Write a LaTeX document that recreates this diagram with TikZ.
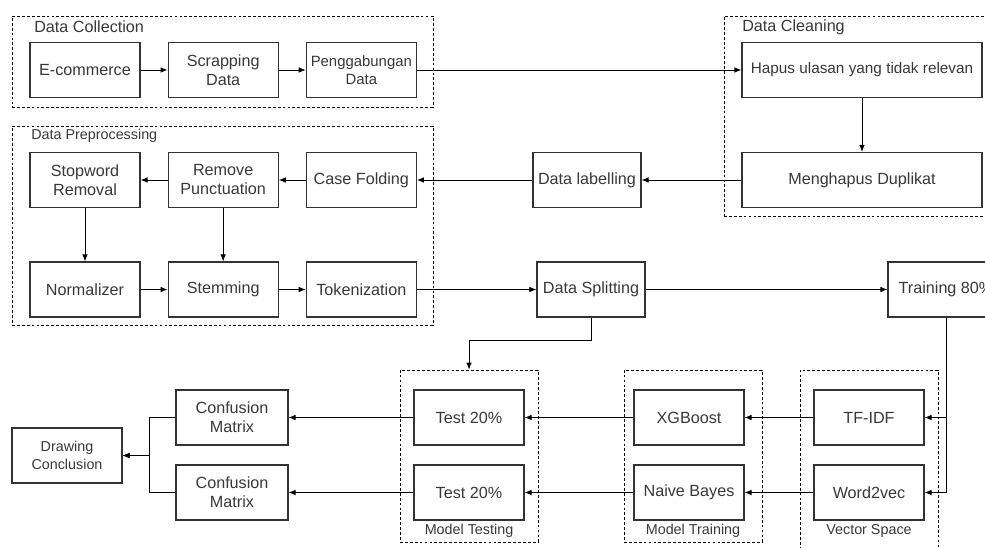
\documentclass[tikz,border=0pt]{standalone}
\usepackage{fontspec}
\setmainfont{Liberation Sans}
\usetikzlibrary{positioning}
\usetikzlibrary{arrows.meta}

\definecolor{edge}{HTML}{333333}
\definecolor{ink}{HTML}{383838}

\begin{document}
\begin{tikzpicture}[x=0.025cm, y=-0.025cm,
    block/.style={draw=edge, line width=0.8pt, text=ink, minimum width=2.75cm, minimum height=1.375cm, inner sep=1pt, align=center, font=\fontsize{11.5}{13.5}\selectfont},
    smallblock/.style={block, font=\fontsize{10.6}{12.5}\selectfont},
    group/.style={draw=black, line width=0.5pt, dash pattern=on 2pt off 1.5pt, inner sep=0pt},
    grouplabel/.style={text=ink, inner sep=0pt, font=\fontsize{10.2}{12}\selectfont},
    flow/.style={draw=black, line width=0.7pt, -{Latex[length=5pt, width=4pt]}}]
    \useasboundingbox (0,0) rectangle (985,547);

    % groups
    \node[group, minimum width=10.525cm, minimum height=2.275cm] (coll) at (222.5,61.5) {};
    \node[group, minimum width=6.65cm, minimum height=5cm] (clean) at (857,116) {};
    \node[group, minimum width=10.525cm, minimum height=4.975cm] (prep) at (222.5,225.5) {};
    \node[group, minimum width=3.45cm, minimum height=4.3cm] (mtest) at (469,456) {};
    \node[group, minimum width=3.45cm, minimum height=4.3cm] (mtrain) at (693,456) {};
    \node[group, minimum width=3.45cm, minimum height=4.55cm] (vspace) at (869,461) {};

    \node[grouplabel, anchor=west, font=\fontsize{11.5}{13.5}\selectfont] (colllbl) at (34,27) {Data Collection};
    \node[grouplabel, anchor=west, font=\fontsize{11.5}{13.5}\selectfont] (cleanlbl) at (742,27) {Data Cleaning};
    \node[grouplabel, anchor=west] (preplbl) at (31,136) {Data Preprocessing};
    \node[grouplabel] (mtestlbl) at (469,531) {Model Testing};
    \node[grouplabel] (mtrainlbl) at (693,531) {Model Training};
    \node[grouplabel] (vspacelbl) at (869,531) {Vector Space};

    % data collection
    \node[block] (ecom) at (85,70) {E-commerce};
    \node[block, right=0.675cm of ecom] (scrap) {Scrapping\\Data};
    \node[smallblock, right=0.675cm of scrap] (pengg) {Penggabungan\\Data};

    % data cleaning
    \node[smallblock, minimum width=6cm, font=\fontsize{10.9}{13}\selectfont] (hapus) at (862,70) {Hapus ulasan yang tidak relevan};
    \node[block, minimum width=6cm] (dupl) at (862,180) {Menghapus Duplikat};
    \node[block, minimum width=2.7cm] (label) at (587,180) {Data labelling};

    % preprocessing
    \node[block] (stop) at (85,180) {Stopword\\Removal};
    \node[block, right=0.675cm of stop] (punct) {Remove\\Punctuation};
    \node[block, right=0.675cm of punct] (case) {Case Folding};
    \node[block] (norm) at (85,289.5) {Normalizer};
    \node[block, right=0.675cm of norm] (stem) {Stemming};
    \node[block, right=0.675cm of stem] (token) {Tokenization};

    \node[block, minimum width=2.7cm] (split) at (591,289.5) {Data Splitting};
    \node[block, minimum width=2.9cm] (train) at (946,289.5) {Training 80\%};

    % models
    \node[block] (tfidf) at (869,417.5) {TF-IDF};
    \node[block] (w2v) at (869,492.5) {Word2vec};
    \node[block] (xgb) at (689,417.5) {XGBoost};
    \node[block] (nb) at (689,492.5) {Naive Bayes};
    \node[block] (test1) at (469,417.5) {Test 20\%};
    \node[block] (test2) at (469,492.5) {Test 20\%};
    \node[block, minimum width=2.8cm] (conf1) at (232,417.5) {Confusion\\Matrix};
    \node[block, minimum width=2.8cm] (conf2) at (232,492.5) {Confusion\\Matrix};
    \node[smallblock, font=\fontsize{10.2}{12.5}\selectfont] (concl) at (67,455.5) {Drawing\\Conclusion};

    % connectors
    \draw[flow] (ecom) -- (scrap);
    \draw[flow] (scrap) -- (pengg);
    \draw[flow] (pengg) -- (hapus);
    \draw[flow] (hapus) -- (dupl);
    \draw[flow] (dupl) -- (label);
    \draw[flow] (label) -- (case);
    \draw[flow] (case) -- (punct);
    \draw[flow] (punct) -- (stop);
    \draw[flow] (stop) -- (norm);
    \draw[flow] (punct) -- (stem);
    \draw[flow] (norm) -- (stem);
    \draw[flow] (stem) -- (token);
    \draw[flow] (token) -- (split);
    \draw[flow] (split) -- (train);
    \draw[flow] (split.south) -- ++(0,23) -| (mtest.north);
    \draw[flow] (train.south) |- (tfidf.east);
    \draw[flow] (train.south) |- (w2v.east);
    \draw[flow] (tfidf) -- (xgb);
    \draw[flow] (w2v) -- (nb);
    \draw[flow] (xgb) -- (test1);
    \draw[flow] (nb) -- (test2);
    \draw[flow] (test1) -- (conf1);
    \draw[flow] (test2) -- (conf2);
    \draw[flow] (conf1.west) -- ++(-26,0) |- (concl.east);
    \draw[flow] (conf2.west) -- ++(-26,0) |- (concl.east);
\end{tikzpicture}
\end{document}
